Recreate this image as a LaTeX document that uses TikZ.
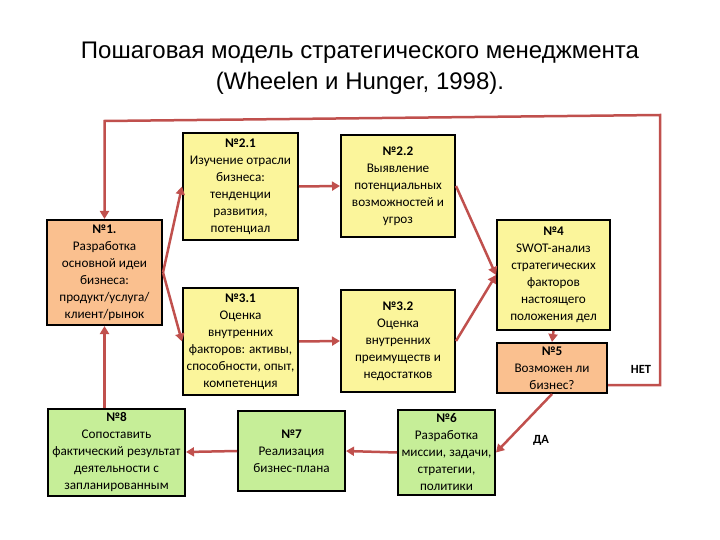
\documentclass[tikz,border=0pt]{standalone}
\usepackage{fontspec}
\setmainfont{Liberation Sans}
\newfontfamily\boxfont{Carlito}
\usetikzlibrary{arrows.meta}
\definecolor{byellow}{HTML}{FBF59B}
\definecolor{borange}{HTML}{FAC08F}
\definecolor{bgreen}{HTML}{C6EE98}
\definecolor{arrred}{HTML}{C0504D}
\tikzset{
  card/.style={draw=black, line width=2pt, align=center, inner sep=0pt,
    font=\boxfont\fontsize{13.2}{17}\selectfont},
  ycard/.style={card, fill=byellow},
  ocard/.style={card, fill=borange},
  gcard/.style={card, fill=bgreen},
  arr/.style={draw=arrred, line width=2.5pt, -{Triangle[width=9pt,length=8pt]}},
  lbl/.style={font=\boxfont\bfseries\fontsize{12.5}{14}\selectfont}
}
\begin{document}
\begin{tikzpicture}[x=1pt,y=-1pt]
\useasboundingbox (0,0) rectangle (720,540);
\node[font=\fontsize{24}{31}\selectfont, align=center] (title) at (360,68)
  {Пошаговая модель стратегического менеджмента\\(Wheelen и Hunger, 1998).};

\node[ycard, minimum width=115pt, minimum height=107pt] (n21) at (240.5,186.5)
  {\textbf{№2.1}\\Изучение отрасли\\бизнеса:\\тенденции\\развития,\\потенциал};
\node[ycard, minimum width=114pt, minimum height=102pt] (n22) at (398,186)
  {\textbf{№2.2}\\Выявление\\потенциальных\\возможностей и\\угроз};
\node[ocard, minimum width=115pt, minimum height=105pt] (n1) at (104.5,272.5)
  {\textbf{№1.}\\Разработка\\основной идеи\\бизнеса:\\продукт/услуга/\\клиент/рынок};
\node[ycard, minimum width=113pt, minimum height=110pt] (n4) at (553.5,275)
  {\textbf{№4}\\SWOT-анализ\\стратегических\\факторов\\настоящего\\положения дел};
\node[ycard, minimum width=115pt, minimum height=107pt] (n31) at (240.5,341.5)
  {\textbf{№3.1}\\Оценка\\внутренних\\факторов: активы,\\способности, опыт,\\компетенция};
\node[ycard, minimum width=114pt, minimum height=102pt] (n32) at (398,341)
  {\textbf{№3.2}\\Оценка\\внутренних\\преимуществ и\\недостатков};
\node[ocard, minimum width=110pt, minimum height=50pt] (n5) at (552,368)
  {\textbf{№5}\\Возможен ли\\бизнес?};
\node[gcard, minimum width=137pt, minimum height=87pt] (n8) at (116.5,452)
  {\textbf{№8}\\Сопоставить\\фактический результат\\деятельности с\\запланированным};
\node[gcard, minimum width=107pt, minimum height=80pt] (n7) at (291.5,451)
  {\textbf{№7}\\Реализация\\бизнес-плана};
\node[gcard, minimum width=97pt, minimum height=85pt] (n6) at (446.5,452.5)
  {\textbf{№6}\\Разработка\\миссии, задачи,\\стратегии,\\политики};

\node[lbl] (net) at (641,369) {НЕТ};
\node[lbl] (da) at (541,440) {ДА};

\coordinate (tr) at (660,115);
\coordinate (tl) at (104.5,121);

\draw[arr] (n1.east) -- (n21.west);
\draw[arr] (n1.east) -- (n31.west);
\draw[arr] (n21.east) -- (n22.west);
\draw[arr] (n31.east) -- (n32.west);
\draw[arr] (n22.east) -- (n4.west);
\draw[arr] (n32.east) -- (n4.west);
\draw[arr] (n4.south) -- (n5.north);
\draw[arr] ([yshift=-17pt]n5.east) -| (tr) -- (tl) -- (n1.north);
\draw[arr] (n5.south) -- (n6.east);
\draw[arr] (n6.west) -- (n7.east);
\draw[arr] (n7.west) -- (n8.east);
\draw[arr] (n8.north -| n1.south) -- (n1.south);
\end{tikzpicture}
\end{document}
